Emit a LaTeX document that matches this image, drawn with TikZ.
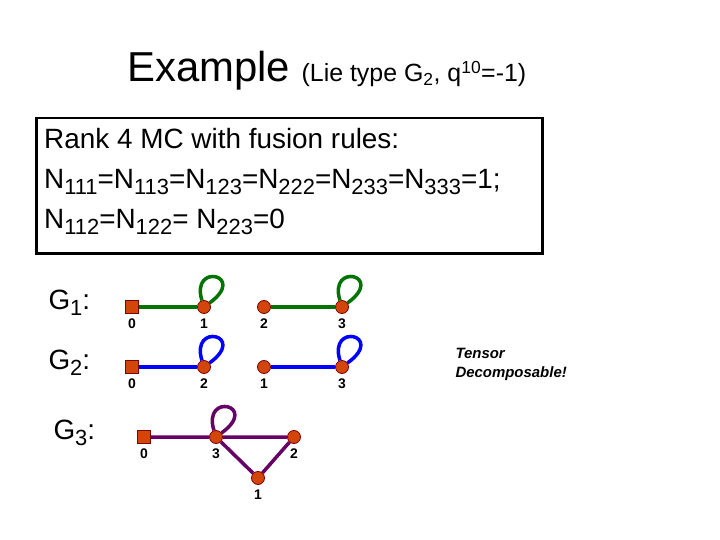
\documentclass[tikz,border=0pt]{standalone}
\usepackage{fontspec}
\setmainfont{Liberation Sans}
\newcommand{\mysb}[1]{\raisebox{-0.22em}{\fontsize{22}{22}\selectfont #1}}
\definecolor{nodefill}{RGB}{210,70,10}
\begin{document}
\begin{tikzpicture}[x=1bp,y=-1bp,
 vtx/.style={circle,draw=red!50!black,fill=nodefill,inner sep=0pt,minimum size=13bp,line width=0.8bp},
 sq/.style={rectangle,draw=red!50!black,fill=nodefill,inner sep=0pt,minimum size=13bp,line width=0.8bp},
 lab/.style={font=\fontsize{14}{14}\selectfont\bfseries,text=black},
 gl/.style={font=\fontsize{28}{28}\selectfont,anchor=west},
 ed/.style={line width=3.5bp}]
\useasboundingbox (0,0) rectangle (720,540);
\node[anchor=base west,inner sep=0] (title) at (127,82) {\fontsize{42}{42}\selectfont Example \fontsize{25}{25}\selectfont (Lie type G\textsubscript{2}, q\textsuperscript{10}=-1)};
\node[draw,line width=2.5bp,anchor=north west,minimum width=506bp,minimum height=135bp,inner sep=0] (box) at (35,117) {};
\node[anchor=north west,align=left,inner sep=0,font=\fontsize{28}{40}\selectfont] (txt) at (44,128) {Rank 4 MC with fusion rules:\\N\mysb{111}=N\mysb{113}=N\mysb{123}=N\mysb{222}=N\mysb{233}=N\mysb{333}=1;\\N\mysb{112}=N\mysb{122}= N\mysb{223}=0};
\node[gl] (g1) at (45,303) {G\mysb{1}:};
\node[gl] (g2) at (45,363) {G\mysb{2}:};
\node[gl] (g3) at (50,433) {G\mysb{3}:};
% G1
\begin{scope}[green!45!black]
\node[sq] (a0) at (132,307) {};\node[vtx] (a1) at (204,307) {};
\node[vtx] (a2) at (264,307) {};\node[vtx] (a3) at (342,307) {};
\draw[ed] (a0)--(a1) (a2)--(a3);
\draw[ed] (a1) .. controls (190,262) and (248,275) .. (a1);
\draw[ed] (a3) .. controls (328,262) and (386,275) .. (a3);
\end{scope}
% G2
\begin{scope}[blue]
\node[sq] (b0) at (132,367) {};\node[vtx] (b2) at (204,367) {};
\node[vtx] (b1) at (264,367) {};\node[vtx] (b3) at (342,367) {};
\draw[ed] (b0)--(b2) (b1)--(b3);
\draw[ed] (b2) .. controls (190,322) and (248,335) .. (b2);
\draw[ed] (b3) .. controls (328,322) and (386,335) .. (b3);
\end{scope}
% G3
\begin{scope}[violet!80!black]
\node[sq] (c0) at (144,437) {};\node[vtx] (c3) at (216,437) {};
\node[vtx] (c2) at (294,437) {};\node[vtx] (c1) at (258,478) {};
\draw[ed] (c0)--(c3)--(c2)--(c1)--(c3);
\draw[ed] (c3) .. controls (202,392) and (260,405) .. (c3);
\end{scope}
\foreach \n/\t in {a0/0,a1/1,a2/2,a3/3,b0/0,b2/2,b1/1,b3/3,c0/0,c3/3,c2/2,c1/1}
 \node[lab] (l\n) at ([yshift=-17bp]\n) {\t};
\node[align=left,font=\fontsize{15}{19}\selectfont\bfseries\itshape,anchor=west] (td) at (452,364) {Tensor\\Decomposable!};
\end{tikzpicture}
\end{document}
